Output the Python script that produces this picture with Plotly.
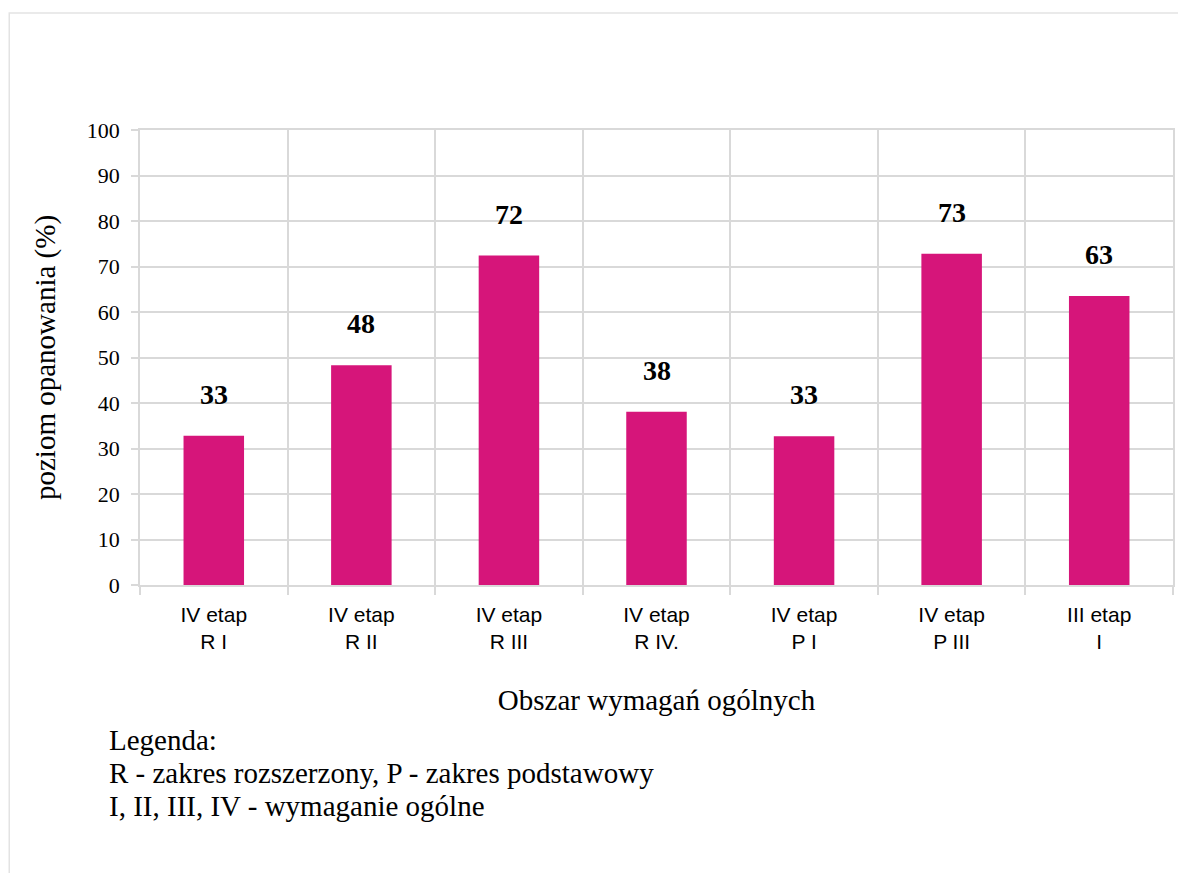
import plotly.graph_objects as go

categories = ["IV etap<br>R I", "IV etap<br>R II", "IV etap<br>R III", "IV etap<br>R IV.",
              "IV etap<br>P I", "IV etap<br>P III", "III etap<br>I"]
values = [32.8, 48.3, 72.4, 38.1, 32.7, 72.8, 63.5]
value_labels = ["33", "48", "72", "38", "33", "73", "63"]
y_ticks = list(range(0, 101, 10))
legend_lines = ["Legenda:",
                "R - zakres rozszerzony, P - zakres podstawowy",
                "I, II, III, IV - wymaganie ogólne"]

BAR = "#D6157A"
GRID = "#D9D9D9"
SERIF = "Liberation Serif, Times New Roman, serif"
SANS = "Liberation Sans, Arial, sans-serif"

# figure geometry (page is offset by 8px body margin)
W, H = 1178, 865
L, R, T, B = 132, 11, 122, 288
PW = W - L - R
PH = H - T - B


def px(xp):
    return (xp - 8 - L) / PW


def py(yp):
    return (H - B - (yp - 8)) / PH


fig = go.Figure()
fig.add_trace(go.Bar(x=categories, y=values, marker=dict(color=BAR, line=dict(width=0)),
                     width=0.41, hoverinfo="skip", showlegend=False))

annotations = []
for c, v, t in zip(categories, values, value_labels):
    annotations.append(dict(x=c, y=v, xref="x", yref="y", text="<b>%s</b>" % t,
                            showarrow=False, yanchor="bottom", yshift=24,
                            font=dict(family=SERIF, size=28, color="black")))
for i, line in enumerate(legend_lines):
    annotations.append(dict(x=px(107), y=py(740 + 33 * i),
                            xref="paper", yref="paper", xanchor="left", yanchor="middle",
                            text=line, showarrow=False,
                            font=dict(family=SERIF, size=29, color="black")))

fig.update_layout(
    width=W, height=H,
    margin=dict(l=L, r=R, t=T, b=B),
    paper_bgcolor="white", plot_bgcolor="white",
    annotations=annotations,
    shapes=[dict(type="rect", xref="paper", yref="paper",
                 x0=px(9), x1=1.2, y0=-1.0, y1=py(13),
                 line=dict(color="#E3E3E3", width=1.5), fillcolor="rgba(0,0,0,0)", layer="below")],
    xaxis=dict(tickson="boundaries", showgrid=True, gridcolor=GRID, gridwidth=1.5,
               ticks="outside", ticklen=8, tickcolor=GRID, tickwidth=1.5,
               showline=True, linecolor=GRID, linewidth=1.5, mirror=True,
               ticklabelstandoff=10,
               tickfont=dict(family=SANS, size=21, color="black"),
               title=dict(text="Obszar wymagań ogólnych", standoff=37,
                          font=dict(family=SERIF, size=29, color="black"))),
    yaxis=dict(range=[0, 100], tickvals=y_ticks, showgrid=True, gridcolor=GRID, gridwidth=1.5,
               ticks="outside", ticklen=7, tickcolor=GRID, tickwidth=1.5,
               showline=True, linecolor=GRID, linewidth=1.5, zeroline=False, mirror=True,
               ticklabelstandoff=7,
               tickfont=dict(family=SERIF, size=22, color="black"),
               title=dict(text="poziom opanowania (%)", standoff=23,
                          font=dict(family=SERIF, size=29, color="black"))),
)

fig.write_html("out.html")
